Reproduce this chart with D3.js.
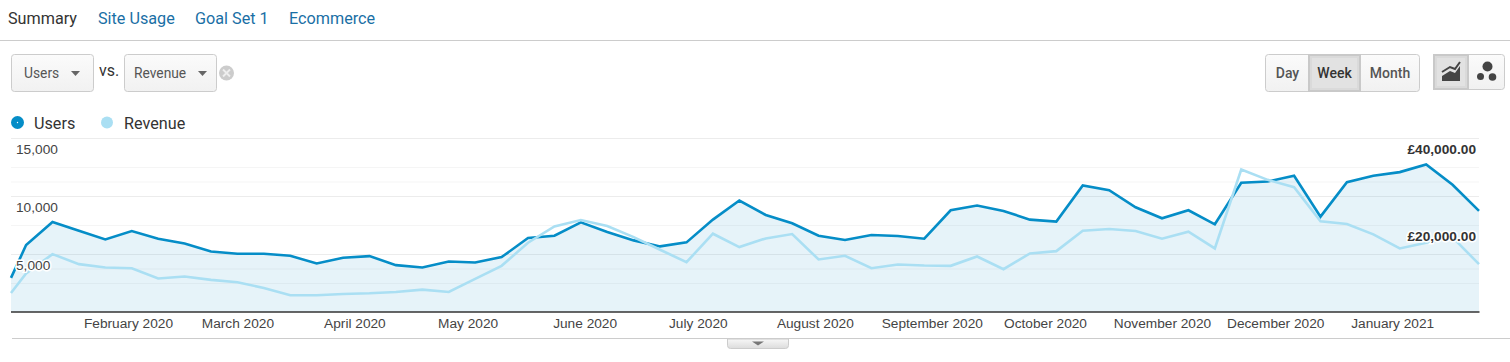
<!DOCTYPE html>
<html>
<head>
<meta charset="utf-8">
<script src="https://cdn.jsdelivr.net/npm/d3@7"></script>
<style>
  html, body { margin: 0; padding: 0; background: #fff; overflow: hidden; }
  svg { display: block; }
  .ui { font-family: Roboto, sans-serif; }
  .axis text { font-family: "Liberation Sans", Arial, sans-serif; font-size: 13.7px; fill: #444; }
</style>
</head>
<body>
<div id="chart"></div>
<script>
// ========== DATA ==========
const weeks = [
  "2020-01-01", "2020-01-05", "2020-01-12", "2020-01-19", "2020-01-26", "2020-02-02", "2020-02-09", "2020-02-16",
  "2020-02-23", "2020-03-01", "2020-03-08", "2020-03-15", "2020-03-22", "2020-03-29", "2020-04-05", "2020-04-12",
  "2020-04-19", "2020-04-26", "2020-05-03", "2020-05-10", "2020-05-17", "2020-05-24", "2020-05-31", "2020-06-07",
  "2020-06-14", "2020-06-21", "2020-06-28", "2020-07-05", "2020-07-12", "2020-07-19", "2020-07-26", "2020-08-02",
  "2020-08-09", "2020-08-16", "2020-08-23", "2020-08-30", "2020-09-06", "2020-09-13", "2020-09-20", "2020-09-27",
  "2020-10-04", "2020-10-11", "2020-10-18", "2020-10-25", "2020-11-01", "2020-11-08", "2020-11-15", "2020-11-22",
  "2020-11-29", "2020-12-06", "2020-12-13", "2020-12-20", "2020-12-27", "2021-01-03", "2021-01-10", "2021-01-17",
  "2021-01-24"
];
const users = [
  2943, 5770, 7761, 7011, 6260, 6982, 6318, 5914,
  5222, 5020, 5020, 4847, 4183, 4674, 4818, 4039,
  3837, 4356, 4270, 4731, 6376, 6578, 7732, 6895,
  6174, 5655, 6001, 7963, 9607, 8367, 7645, 6578,
  6203, 6636, 6549, 6318, 8770, 9174, 8713, 7963,
  7790, 10905, 10501, 9030, 8078, 8770, 7559, 11136,
  11252, 11742, 8222, 11194, 11742, 12059, 12723, 10963,
  8713
];
const revenue = [
  4383, 8844, 13304, 10997, 10228, 10074, 7690, 8151,
  7382, 6844, 5537, 3845, 3845, 4153, 4306, 4614,
  5152, 4614, 7613, 10612, 15918, 19686, 21148, 19763,
  17226, 14303, 11458, 17995, 14919, 16918, 17918, 12073,
  12919, 10074, 10920, 10689, 10612, 12765, 9843, 13458,
  13996, 18687, 19071, 18610, 16841, 18456, 14611, 32759,
  30376, 28684, 20840, 20225, 17841, 14611, 15918, 17149,
  10997
];
const monthTicks = [
  "2020-02-01", "2020-03-01", "2020-04-01", "2020-05-01", "2020-06-01", "2020-07-01",
  "2020-08-01", "2020-09-01", "2020-10-01", "2020-11-01", "2020-12-01", "2021-01-01"
];
const usersTicks = [5000, 10000, 15000];
const revenueTicks = [20000, 40000];
const gridUsers = [2500, 5000, 7500, 10000, 12500, 15000];
const gridRevenue = [10000, 30000];
const tabs = ["Summary", "Site Usage", "Goal Set 1", "Ecommerce"];
const periods = ["Day", "Week", "Month"];

// ========== CHART ==========
const parseDay = d3.utcParse("%Y-%m-%d");
const dates = weeks.map(parseDay);

const svg = d3.select("#chart").append("svg").attr("width", 1510).attr("height", 362);

const defs = svg.append("defs");
const btnGrad = defs.append("linearGradient").attr("id", "btn").attr("x2", 0).attr("y2", 1);
btnGrad.append("stop").attr("offset", "0%").attr("stop-color", "#fbfbfb");
btnGrad.append("stop").attr("offset", "100%").attr("stop-color", "#f1f1f1");
const tabGrad = defs.append("linearGradient").attr("id", "tab").attr("x2", 0).attr("y2", 1);
tabGrad.append("stop").attr("offset", "0%").attr("stop-color", "#f7f7f7");
tabGrad.append("stop").attr("offset", "100%").attr("stop-color", "#dcdcdc");

const x = d3.scaleUtc().domain([dates[0], dates[dates.length - 1]]).range([11, 1479]);
const yUsers = d3.scaleLinear().domain([0, 15000]).range([312, 138]);
const yRevenue = d3.scaleLinear().domain([0, 40000]).range([312, 138]);

// Grid
const grid = svg.append("g");
gridUsers.forEach((v, i) => {
  grid.append("line").attr("x1", 11).attr("x2", 1479)
    .attr("y1", yUsers(v) + 0.5).attr("y2", yUsers(v) + 0.5)
    .attr("stroke", i % 2 ? "#ececec" : "#f5f5f5");
});
gridRevenue.forEach(v => {
  grid.append("line").attr("x1", 11).attr("x2", 1479)
    .attr("y1", yRevenue(v) + 0.5).attr("y2", yRevenue(v) + 0.5)
    .attr("stroke", "#f5f5f5");
});

// Area under users
const area = d3.area().x((d, i) => x(dates[i])).y0(yUsers(0)).y1(d => yUsers(d));
svg.append("path").datum(users).attr("d", area)
  .attr("fill", "#058dc7").attr("fill-opacity", 0.1);

// Lines
const lineOf = y => d3.line().x((d, i) => x(dates[i])).y(d => y(d));
svg.append("path").datum(users).attr("d", lineOf(yUsers))
  .attr("fill", "none").attr("stroke", "#058dc7").attr("stroke-width", 2.6).attr("stroke-linejoin", "miter");
svg.append("path").datum(revenue).attr("d", lineOf(yRevenue))
  .attr("fill", "none").attr("stroke", "#aadff3").attr("stroke-width", 2.6).attr("stroke-linejoin", "miter");

// Baseline
svg.append("line").attr("x1", 11).attr("x2", 1479.5).attr("y1", 312).attr("y2", 312)
  .attr("stroke", "#333").attr("stroke-width", 1.6);

// Month labels
svg.append("g").attr("class", "axis")
  .attr("transform", "translate(0,312)")
  .call(d3.axisBottom(x).tickValues(monthTicks.map(parseDay)).tickSize(0).tickPadding(6)
    .tickFormat(d3.utcFormat("%B %Y")))
  .call(g => g.select(".domain").remove());

// Left axis labels
svg.append("g").attr("class", "axis")
  .attr("transform", "translate(16,0)")
  .call(d3.axisRight(yUsers).tickValues(usersTicks).tickSize(0).tickPadding(0).tickFormat(d3.format(",")))
  .call(g => g.select(".domain").remove())
  .call(g => g.selectAll("text").attr("dy", "15px")
    .attr("stroke", "#fff").attr("stroke-width", 3).attr("paint-order", "stroke"));

// Right axis labels
svg.append("g").attr("class", "axis")
  .attr("transform", "translate(1476,0)")
  .call(d3.axisLeft(yRevenue).tickValues(revenueTicks).tickSize(0).tickPadding(0)
    .tickFormat(d => "£" + d3.format(",.2f")(d)))
  .call(g => g.select(".domain").remove())
  .call(g => g.selectAll("text").attr("dy", "15px").attr("font-weight", "bold").style("font-weight", "bold")
    .style("fill", "#333").attr("stroke", "#fff").attr("stroke-width", 3).attr("paint-order", "stroke"));

// Bottom rule + collapse tab
svg.append("line").attr("x1", 12).attr("x2", 1510).attr("y1", 338.5).attr("y2", 338.5).attr("stroke", "#ccc");
svg.append("path").attr("d", "M727.5,339V345.5q0,3,3,3H785.5q3,0,3,-3V339Z").attr("fill", "url(#tab)").attr("stroke", "#ccc");
svg.append("path").attr("d", "M752,341.5H764L758,345.5Z").attr("fill", "#777");

// ========== PAGE CONTROLS ==========
const ui = svg.append("g").attr("class", "ui");

// Tabs
const tabX = [8, 98, 195, 289];
tabs.forEach((t, i) => {
  ui.append("text").attr("x", tabX[i]).attr("y", 24).attr("font-size", 16.2)
    .attr("fill", i === 0 ? "#333" : "#1a6fa5").text(t);
});
ui.append("line").attr("x1", 0).attr("x2", 1510).attr("y1", 40.5).attr("y2", 40.5).attr("stroke", "#ccc");

// Dropdowns
function dropdown(bx, w, label, tx, arrowX) {
  ui.append("rect").attr("x", bx + 0.5).attr("y", 54.5).attr("width", w).attr("height", 37).attr("rx", 3)
    .attr("fill", "url(#btn)").attr("stroke", "#ccc");
  ui.append("text").attr("x", tx).attr("y", 78).attr("font-size", 13.8).attr("fill", "#555").text(label);
  ui.append("path").attr("d", `M${arrowX},71L${arrowX + 9},71L${arrowX + 4.5},76Z`).attr("fill", "#666");
}
dropdown(11, 82, "Users", 24, 71);
dropdown(124, 92, "Revenue", 134, 198);
ui.append("text").attr("x", 99).attr("y", 76).attr("font-size", 16).attr("fill", "#333").text("vs.");

// Remove icon
ui.append("circle").attr("cx", 226.5).attr("cy", 73).attr("r", 7.5).attr("fill", "#ccc");
ui.append("path").attr("d", "M223,69.5L230,76.5M230,69.5L223,76.5").attr("stroke", "#eee").attr("stroke-width", 1.8);

// Pressed button: darker edge, lighter middle
function pressed(bx, by, w, h) {
  ui.append("rect").attr("x", bx).attr("y", by).attr("width", w).attr("height", h).attr("fill", "#c9c9c9");
  ui.append("rect").attr("x", bx + 2).attr("y", by + 2).attr("width", w - 4).attr("height", h - 4).attr("fill", "#dadada");
  ui.append("rect").attr("x", bx + 4).attr("y", by + 4).attr("width", w - 8).attr("height", h - 8).attr("fill", "#e2e2e2");
}

// Day / Week / Month
ui.append("rect").attr("x", 1265.5).attr("y", 54.5).attr("width", 154).attr("height", 37).attr("rx", 3)
  .attr("fill", "url(#btn)").attr("stroke", "#ccc");
pressed(1308, 54, 53, 38);
const periodX = [1287.5, 1334.5, 1390];
periods.forEach((p, i) => {
  ui.append("text").attr("x", periodX[i]).attr("y", 78).attr("text-anchor", "middle")
    .attr("font-size", 14).attr("font-weight", 500).attr("fill", i === 1 ? "#333" : "#555").text(p);
});

// Chart type toggle
ui.append("rect").attr("x", 1433.5).attr("y", 54.5).attr("width", 71).attr("height", 35).attr("rx", 3)
  .attr("fill", "url(#btn)").attr("stroke", "#ccc");
pressed(1433, 54, 36, 36);
ui.append("path").attr("d", "M1442,72L1450,67L1455,69L1460,62").attr("fill", "none").attr("stroke", "#444").attr("stroke-width", 2);
ui.append("path").attr("d", "M1442,81V76L1450,71L1455,73L1460,66V81Z").attr("fill", "#444");
ui.append("circle").attr("cx", 1487.5).attr("cy", 66.5).attr("r", 5).attr("fill", "#444");
ui.append("circle").attr("cx", 1480.5).attr("cy", 76.5).attr("r", 3.5).attr("fill", "#444");
ui.append("circle").attr("cx", 1492.5).attr("cy", 77).attr("r", 3.8).attr("fill", "#444");

// Legend
ui.append("circle").attr("cx", 17.5).attr("cy", 122.5).attr("r", 6.5).attr("fill", "#058dc7");
ui.append("circle").attr("cx", 17.5).attr("cy", 122.5).attr("r", 0.7).attr("fill", "#fff");
ui.append("text").attr("x", 34).attr("y", 128.5).attr("font-size", 16.2).attr("fill", "#333").text("Users");
ui.append("circle").attr("cx", 107).attr("cy", 122.5).attr("r", 6).attr("fill", "#aadff3");
ui.append("text").attr("x", 124).attr("y", 128.5).attr("font-size", 16.2).attr("fill", "#333").text("Revenue");
</script>
</body>
</html>
